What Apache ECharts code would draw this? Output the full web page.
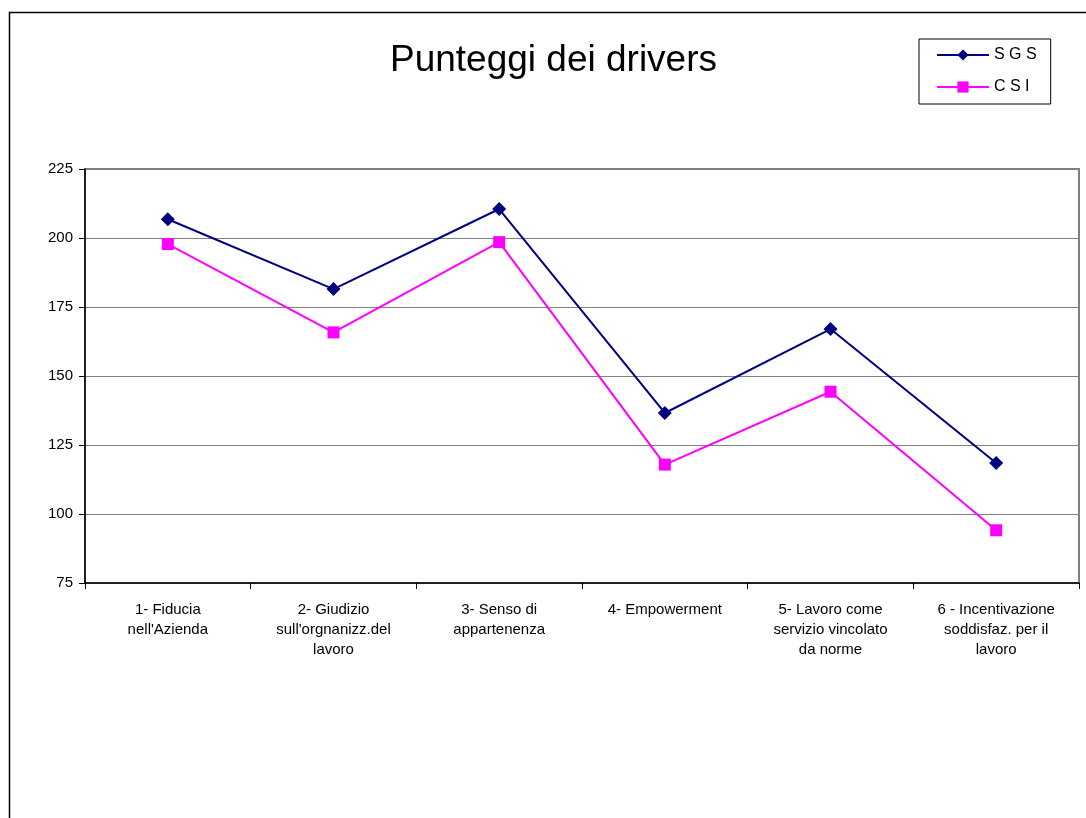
<!DOCTYPE html>
<html>
<head>
<meta charset="utf-8">
<title>Punteggi dei drivers</title>
<script src="https://cdn.jsdelivr.net/npm/echarts@6/dist/echarts.min.js"></script>
<style>
  html, body { margin: 0; padding: 0; background: #fff; }
  #main { width: 1086px; height: 818px; }
</style>
</head>
<body>
<div id="main"></div>
<script>
// categories and values
var categories = [
  "1- Fiducia\nnell'Azienda",
  "2- Giudizio\nsull'orgnanizz.del\nlavoro",
  "3- Senso di\nappartenenza",
  "4- Empowerment",
  "5- Lavoro come\nservizio vincolato\nda norme",
  "6 - Incentivazione\nsoddisfaz. per il\nlavoro"
];
var sgsValues = [206.8, 181.5, 210.5, 136.6, 167.0, 118.5];
var csiValues = [197.8, 165.8, 198.5, 117.9, 144.3, 94.1];
var yTicks = [75, 100, 125, 150, 175, 200, 225];

var font = "'Liberation Sans', Arial, sans-serif";

var chart = echarts.init(document.getElementById('main'));
var option = {
  backgroundColor: '#fff',
  animation: false,
  title: {
    text: 'Punteggi dei drivers',
    left: 385,
    top: 37,
    textStyle: { fontFamily: font, fontSize: 37, fontWeight: 'normal', color: '#000' }
  },
  legend: {
    orient: 'vertical',
    left: 919,
    top: 39,
    padding: [8, 14, 9, 17],
    itemGap: 16,
    itemWidth: 52,
    itemHeight: 14,
    borderColor: '#000',
    borderWidth: 1,
    textStyle: { fontFamily: font, fontSize: 16, color: '#000' },
    formatter: function (name) { return name.split('').join(' '); },
    data: ['SGS', 'CSI']
  },
  graphic: [{
    type: 'rect',
    shape: { x: 9.5, y: 12.5, width: 1200, height: 1000 },
    style: { fill: null, stroke: '#000', lineWidth: 1.5 },
    silent: true
  }],
  grid: {
    left: 85,
    right: 7,
    top: 169,
    height: 414,
    show: true,
    borderColor: '#808080',
    borderWidth: 2,
    backgroundColor: 'transparent'
  },
  xAxis: {
    type: 'category',
    data: categories,
    boundaryGap: true,
    axisLine: { lineStyle: { color: '#000', width: 1.5 } },
    axisTick: { show: true, interval: 0, length: 6, lineStyle: { color: '#000' } },
    axisLabel: {
      interval: 0,
      margin: 17,
      fontFamily: font,
      fontSize: 15,
      lineHeight: 20,
      color: '#000',
      align: 'center'
    }
  },
  yAxis: {
    type: 'value',
    min: 75,
    max: 225,
    interval: 25,
    axisLine: { show: true, lineStyle: { color: '#000', width: 1.5 } },
    axisTick: { show: true, length: 6, lineStyle: { color: '#000' } },
    axisLabel: {
      margin: 12,
      fontFamily: font,
      fontSize: 15,
      color: '#000',
      formatter: function (v) { return yTicks.indexOf(v) >= 0 ? String(v) : ''; }
    },
    splitLine: { show: true, lineStyle: { color: '#808080', width: 1 } }
  },
  series: [
    {
      name: 'SGS',
      type: 'line',
      data: sgsValues,
      symbol: 'diamond',
      symbolSize: 14,
      lineStyle: { color: '#000080', width: 2 },
      itemStyle: { color: '#000080' }
    },
    {
      name: 'CSI',
      type: 'line',
      data: csiValues,
      symbol: 'rect',
      symbolSize: 12,
      lineStyle: { color: '#FF00FF', width: 2 },
      itemStyle: { color: '#FF00FF' }
    }
  ]
};
chart.setOption(option);
</script>
</body>
</html>
